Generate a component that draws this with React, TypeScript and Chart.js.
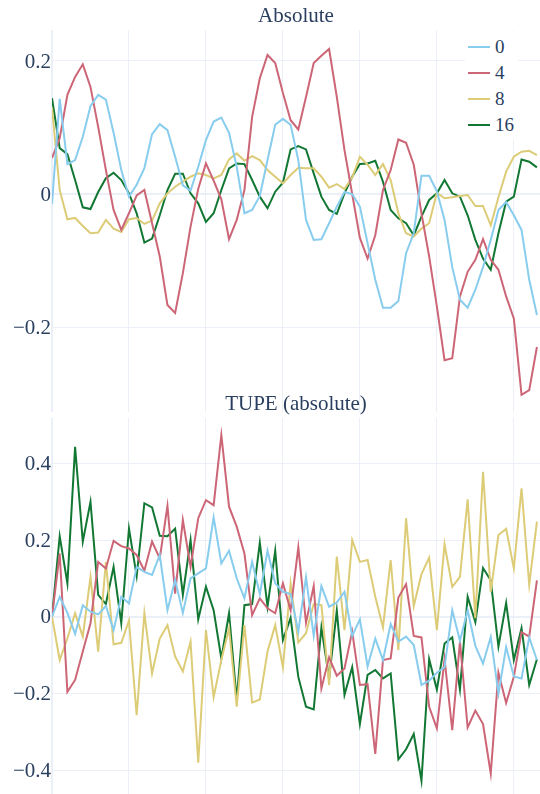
import React, { useEffect, useRef } from "react";
import { Chart, registerables } from "chart.js";

Chart.register(...registerables);

// ---------- data ----------
const steps = [
  0, 1, 2, 3, 4, 5, 6, 7, 8, 9, 10, 11, 12, 13, 14, 15, 16, 17, 18, 19, 20, 21, 22, 23, 24, 25, 26, 27, 28, 29, 30, 31,
  32, 33, 34, 35, 36, 37, 38, 39, 40, 41, 42, 43, 44, 45, 46, 47, 48, 49, 50, 51, 52, 53, 54, 55, 56, 57, 58, 59, 60, 61, 62, 63,
];

const seriesNames = ["0", "4", "8", "16"];
const seriesColors = ["rgb(136, 204, 238)", "rgb(204, 102, 119)", "rgb(221, 204, 119)", "rgb(17, 119, 51)"];

const panelTitles = ["Absolute", "TUPE (absolute)"];

const absolute0 = [
  -0.015, 0.143, 0.045, 0.051, 0.086, 0.132, 0.149, 0.142, 0.092, 0.036, -0.004, 0.014, 0.039, 0.09, 0.105, 0.096,
  0.056, 0.013, 0.005, 0.041, 0.081, 0.109, 0.115, 0.092, 0.041, -0.029, -0.024, -0.003, 0.051, 0.104, 0.113, 0.104,
  0.051, -0.039, -0.069, -0.068, -0.044, -0.019, 0.003, 0.0, -0.019, -0.074, -0.129, -0.171, -0.171, -0.161, -0.089, -0.059,
  0.0275, 0.0275, 0.004, -0.039, -0.11, -0.159, -0.171, -0.144, -0.11, -0.069, -0.024, -0.012, -0.032, -0.054, -0.129, -0.182,
];
const absolute4 = [
  0.054, 0.084, 0.149, 0.176, 0.195, 0.161, 0.101, 0.036, -0.024, -0.054, -0.029, -0.002, 0.006, -0.044, -0.094, -0.167,
  -0.179, -0.119, -0.049, 0.008, 0.046, 0.02, -0.008, -0.068, -0.039, 0.006, 0.116, 0.174, 0.209, 0.197, 0.152, 0.111,
  0.097, 0.146, 0.197, 0.208, 0.218, 0.146, 0.066, 0.0, -0.066, -0.097, -0.062, 0.006, 0.036, 0.082, 0.077, 0.044,
  -0.029, -0.094, -0.169, -0.25, -0.247, -0.154, -0.117, -0.099, -0.068, -0.099, -0.114, -0.154, -0.187, -0.302, -0.295, -0.23,
];
const absolute8 = [
  0.13, 0.006, -0.038, -0.036, -0.048, -0.059, -0.058, -0.039, -0.052, -0.057, -0.038, -0.036, -0.045, -0.04, -0.014, 0.001,
  0.011, 0.0185, 0.026, 0.031, 0.0286, 0.0236, 0.0286, 0.052, 0.061, 0.05, 0.057, 0.051, 0.036, 0.026, 0.016, 0.0286,
  0.0396, 0.0386, 0.0386, 0.026, 0.0095, 0.015, 0.0075, 0.025, 0.056, 0.044, 0.0286, 0.045, 0.021, -0.029, -0.059, -0.064,
  -0.052, -0.044, 0.002, -0.0065, -0.005, -0.003, -0.0015, -0.018, -0.018, -0.047, -0.005, 0.0336, 0.056, 0.0636, 0.065, 0.0586,
];
const absolute16 = [
  0.144, 0.069, 0.06, 0.021, -0.02, -0.0226, 0.003, 0.0236, 0.032, 0.021, 0.001, -0.029, -0.073, -0.067, -0.032, 0.006,
  0.0305, 0.0305, 0.001, -0.014, -0.042, -0.029, 0.006, 0.0386, 0.046, 0.045, 0.021, -0.004, -0.0215, 0.0035, 0.017, 0.067,
  0.072, 0.067, 0.031, -0.004, -0.024, -0.03, 0.001, 0.026, 0.045, 0.046, 0.05, 0.0185, -0.024, -0.0366, -0.044, -0.062,
  -0.034, -0.009, 0.001, 0.021, 0.001, -0.004, -0.032, -0.069, -0.097, -0.114, -0.059, -0.0115, -0.004, 0.052, 0.0486, 0.04,
];

const tupe0 = [
  0, 0.052, 0.01, -0.045, 0.03, 0.013, 0.006, 0.028, -0.035, 0.052, 0.035, 0.13, 0.117, 0.109, 0.161, 0.017,
  0.096, 0.01, 0.1, 0.113, 0.126, 0.259, 0.139, 0.172, 0.1, 0.048, 0.143, 0.059, 0.172, 0.087, 0.065, 0.059,
  -0.039, 0.103, -0.05, 0.08, 0.026, 0.037, 0.065, -0.05, -0.007, -0.13, -0.057, -0.113, -0.019, -0.065, -0.052, -0.074,
  -0.178, -0.167, -0.146, -0.132, 0.017, -0.063, 0.017, -0.076, -0.122, -0.053, -0.201, -0.079, -0.156, -0.161, -0.054, -0.113,
];
const tupe4 = [
  0, 0.165, -0.196, -0.165, -0.091, -0.017, 0.143, 0.126, 0.198, 0.184, 0.178, 0.161, 0.12, 0.196, 0.152, 0.289,
  0.06, 0.252, 0.13, 0.257, 0.304, 0.291, 0.474, 0.287, 0.235, 0.165, 0.004, 0.048, 0.022, 0.009, 0.087, 0.017,
  0.181, -0.016, 0.08, -0.187, -0.106, -0.154, -0.135, -0.039, -0.178, -0.176, -0.358, -0.113, -0.109, 0.05, 0.085, -0.05,
  -0.054, -0.235, -0.291, -0.111, -0.296, -0.065, -0.289, -0.245, -0.28, -0.409, -0.146, -0.225, -0.157, -0.04, -0.052, 0.095,
];
const tupe8 = [
  0, -0.113, -0.057, 0.009, -0.052, 0.104, -0.091, 0.143, -0.072, -0.068, -0.01, -0.257, 0.009, -0.148, -0.057, -0.022,
  -0.104, -0.143, -0.065, -0.381, -0.035, -0.21, -0.113, -0.03, -0.235, -0.022, -0.224, -0.216, -0.091, -0.022, -0.132, 0.087,
  -0.067, -0.043, 0.033, 0.03, -0.178, 0.157, -0.035, 0.2, 0.143, 0.148, 0.052, -0.028, 0.148, -0.087, 0.257, 0.028,
  0.111, 0.154, -0.035, 0.189, 0.078, 0.104, 0.306, -0.004, 0.378, 0.065, 0.213, 0.229, 0.126, 0.335, 0.083, 0.248,
];
const tupe16 = [
  0, 0.21, 0.087, 0.443, 0.196, 0.3, 0.057, 0.033, 0.13, -0.017, 0.23, 0.106, 0.296, 0.285, 0.211, 0.21,
  0.23, 0.057, 0.2, -0.007, 0.078, 0.017, -0.109, 0.009, -0.217, 0.03, 0.033, 0.193, 0.026, 0.172, -0.061, -0.003,
  -0.157, -0.235, -0.242, -0.028, -0.161, 0.016, -0.204, -0.132, -0.28, -0.152, -0.139, -0.161, -0.148, -0.372, -0.346, -0.306,
  -0.428, -0.111, -0.19, -0.07, -0.054, -0.19, 0.052, -0.014, 0.127, 0.095, -0.078, 0.036, -0.113, -0.03, -0.178, -0.111,
];

const xTickValues = [0, 10, 20, 30, 40, 50, 60];
const absYTicks = [-0.2, 0, 0.2];
const tupeYTicks = [-0.4, -0.2, 0, 0.2, 0.4];

// ---------- styling ----------
const FONT = '"Liberation Serif", "DejaVu Serif", Tinos, "Times New Roman", Times, serif';
const TEXT = "#2a3f5f";
const GRID = "#EBF0F8";

function fmt(v: number) {
  if (Math.abs(v) < 1e-9) return "0";
  return (v < 0 ? "\u2212" : "") + Math.abs(v).toFixed(1);
}

function makeChart(
  canvas: HTMLCanvasElement,
  title: string,
  series: number[][],
  yMin: number,
  yMax: number,
  yTicks: number[],
  padTop: number,
  padBottom: number
) {
  return new Chart(canvas, {
    type: "line",
    data: {
      datasets: series.map((vals, k) => ({
        label: seriesNames[k],
        data: vals.map((y, i) => ({ x: steps[i], y })),
        borderColor: seriesColors[k],
        backgroundColor: seriesColors[k],
        borderWidth: 2,
        pointRadius: 0,
        pointHoverRadius: 0,
        fill: false,
        tension: 0,
      })),
    },
    options: {
      animation: false,
      responsive: false,
      maintainAspectRatio: false,
      devicePixelRatio: 1,
      events: [],
      layout: { padding: { left: 0, right: 0, top: 0, bottom: 0 } },
      plugins: {
        legend: { display: false },
        tooltip: { enabled: false },
        title: {
          display: true,
          text: title,
          fullSize: false,
          color: TEXT,
          font: { family: FONT, size: 21, weight: "normal", lineHeight: 1.2 },
          padding: { top: padTop, bottom: padBottom },
        },
      },
      scales: {
        x: {
          type: "linear",
          min: 0,
          max: 63.4,
          afterBuildTicks: (s: any) => {
            s.ticks = xTickValues.map((v) => ({ value: v }));
          },
          afterFit: (s: any) => {
            s.height = 0;
            s.paddingLeft = 0;
            s.paddingRight = 0;
            s.paddingTop = 0;
            s.paddingBottom = 0;
          },
          ticks: { display: false },
          grid: {
            color: GRID,
            lineWidth: (c: any) => (c.tick && c.tick.value === 0 ? 2 : 1),
            drawTicks: false,
          },
          border: { display: false },
        },
        y: {
          type: "linear",
          min: yMin,
          max: yMax,
          afterBuildTicks: (s: any) => {
            s.ticks = yTicks.map((v) => ({ value: v }));
          },
          afterFit: (s: any) => {
            s.width = 52;
            s.paddingTop = 0;
            s.paddingBottom = 0;
            s.paddingLeft = 0;
            s.paddingRight = 0;
          },
          ticks: {
            autoSkip: false,
            padding: 1,
            labelOffset: 1,
            color: TEXT,
            font: { family: FONT, size: 21 },
            callback: (v: any) => fmt(Number(v)),
          },
          grid: {
            color: GRID,
            lineWidth: (c: any) => (c.tick && c.tick.value === 0 ? 2 : 1),
            drawTicks: false,
          },
          border: { display: false },
        },
      },
    } as any,
  });
}

export default function App() {
  const topRef = useRef<HTMLCanvasElement | null>(null);
  const botRef = useRef<HTMLCanvasElement | null>(null);

  useEffect(() => {
    const c1 = makeChart(
      topRef.current!,
      panelTitles[0],
      [absolute0, absolute4, absolute8, absolute16],
      -0.3278,
      0.2466,
      absYTicks,
      4,
      0.8
    );
    const c2 = makeChart(
      botRef.current!,
      panelTitles[1],
      [tupe0, tupe4, tupe8, tupe16],
      -0.473,
      0.5184,
      tupeYTicks,
      11.4,
      1.4
    );
    return () => {
      c1.destroy();
      c2.destroy();
    };
  }, []);

  return (
    <div
      style={{
        position: "fixed",
        left: 0,
        top: 0,
        width: 540,
        height: 794,
        overflow: "hidden",
        background: "#fff",
      }}
    >
      <canvas
        ref={topRef}
        width={540}
        height={412}
        style={{ position: "absolute", left: 0, top: 0, width: 540, height: 412 }}
      />
      <canvas
        ref={botRef}
        width={540}
        height={418}
        style={{ position: "absolute", left: 0, top: 380, width: 540, height: 418 }}
      />
      <div
        style={{
          position: "absolute",
          left: 465,
          top: 31,
          width: 53,
          height: 109,
          background: "#fff",
        }}
      />
      {seriesNames.map((name, k) => {
        const cy = 46.7 + 26.1 * k;
        return (
          <React.Fragment key={name}>
            <div
              style={{
                position: "absolute",
                left: 468,
                top: cy - 1,
                width: 22,
                height: 2,
                background: seriesColors[k],
              }}
            />
            <div
              style={{
                position: "absolute",
                left: 495,
                top: cy - 12,
                height: 24,
                lineHeight: "24px",
                fontFamily: FONT,
                fontSize: 19,
                color: TEXT,
                whiteSpace: "nowrap",
              }}
            >
              {name}
            </div>
          </React.Fragment>
        );
      })}
    </div>
  );
}
